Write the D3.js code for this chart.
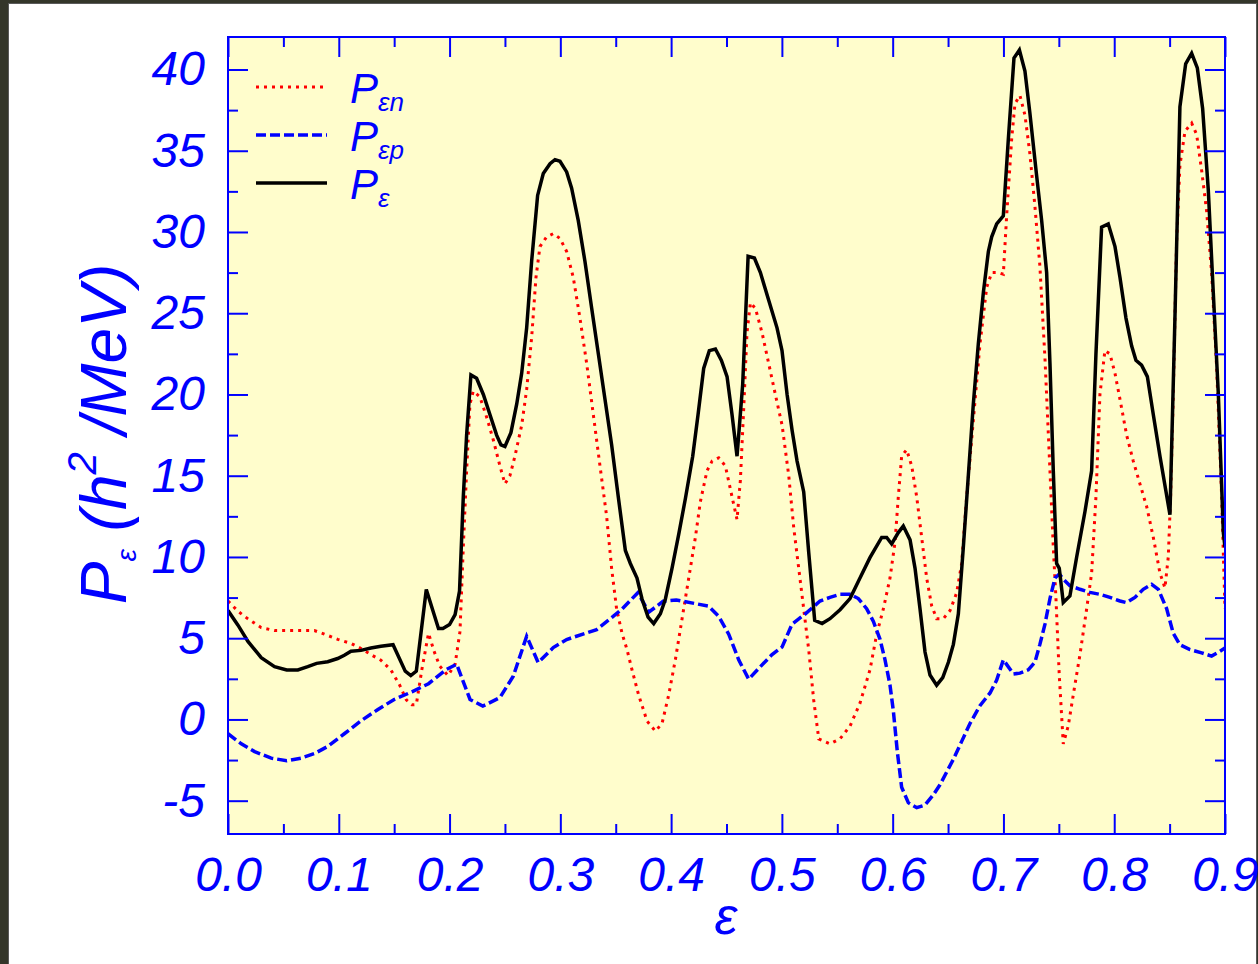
<!DOCTYPE html>
<html>
<head>
<meta charset="utf-8">
<script src="https://cdn.jsdelivr.net/npm/d3@7"></script>
<style>
  html, body { margin: 0; padding: 0; background: #34362a; }
  svg { display: block; }
  .tick line { stroke: #0000ff; stroke-width: 2px; }
  .tick text { fill: #0000ff; font-family: "Liberation Sans", Arial, sans-serif; font-style: italic; font-size: 48px; }
</style>
</head>
<body>
<svg id="chart" width="1258" height="964"></svg>
<script>
// deformation values (x) and P values for each curve
const epsN = [0, .009, .018, .030, .042, .053, .063, .078, .087, .099, .111, .120, .129, .138, .147, .155, .161, .166, .170, .175, .181, .186, .191, .1986, .205, .2094, .2124, .2154, .2184, .2214, .2274, .2335, .2395, .2455, .250, .2545, .259, .2651, .2696, .2741, .278, .2816, .2876, .2937, .2997, .3057, .3117, .3177, .3238, .3298, .3358, .3418, .3463, .3508, .3557, .3602, .3647, .3707, .3783, .3858, .3918, .3978, .4039, .4099, .4159, .4219, .4264, .4324, .437, .443, .449, .455, .4595, .4625, .4655, .4685, .4716, .4761, .4821, .4881, .4941, .5002, .5062, .5107, .5152, .5197, .5242, .5287, .5333, .5434, .5525, .5615, .5705, .5795, .5856, .5916, .5976, .6021, .6051, .6081, .6126, .6172, .6217, .6262, .6307, .6352, .6397, .6457, .6518, .6578, .6623, .6668, .6728, .6788, .6849, .6894, .6954, .6999, .7029, .7074, .7104, .7149, .7194, .7239, .7284, .7329, .7375, .742, .745, .7474, .7504, .754, .7585, .763, .7691, .7751, .7796, .7835, .7871, .7916, .7961, .8007, .8052, .8112, .8172, .8232, .8293, .8353, .8413, .8458, .8488, .8509, .8533, .8563, .8593, .8639, .8699, .8744, .8789, .8834, .8879, .8925, .897, .9];
const pN = [7.29, 6.66, 6.19, 5.65, 5.47, 5.47, 5.47, 5.47, 5.25, 4.93, 4.68, 4.37, 3.99, 3.65, 3.05, 2.11, 1.2, 0.9, 0.92, 3.07, 5.3, 4.2, 3.3, 2.7, 3.4, 5.4, 10.6, 15.3, 19.4, 20.2, 19.85, 18.6, 17.2, 15.6, 14.5, 15.0, 16.2, 18.1, 20.3, 23.5, 27.2, 29.1, 29.7, 29.9, 29.6, 28.8, 27.2, 24.7, 21.9, 18.75, 15.6, 12.5, 9.3, 6.8, 5.3, 4.3, 3.05, 1.5, -0.1, -0.72, -0.25, 1.5, 3.7, 6.2, 8.7, 11.2, 13.4, 15.3, 15.9, 16.1, 15.6, 13.7, 12.3, 14.7, 19.1, 23.8, 25.65, 25.3, 23.8, 21.9, 20.0, 18.1, 15.0, 11.8, 9.3, 6.8, 4.3, 1.2, -1.2, -1.5, -1.19, -0.41, 1.0, 3.05, 5.25, 6.8, 8.7, 10.9, 13.7, 16.2, 16.6, 15.6, 13.7, 11.2, 8.7, 7.0, 6.2, 6.2, 6.7, 7.8, 9.6, 13.7, 18.4, 23.1, 26.6, 27.5, 27.5, 27.4, 31.0, 35.7, 37.9, 38.4, 37.2, 34.8, 31.6, 27.9, 22.2, 15.3, 10.6, 7.45, 2.7, -1.5, -0.4, 1.5, 4.0, 6.8, 9.0, 13.7, 20.0, 22.7, 22.5, 21.3, 19.7, 17.5, 15.9, 14.5, 13.1, 11.2, 9.0, 8.1, 10.0, 13.7, 20.0, 29.4, 34.1, 36.2, 36.7, 36.0, 33.8, 31.3, 27.5, 21.6, 13.7, 6.8];

const epsP = [0, .012, .024, .039, .053, .066, .078, .090, .105, .120, .135, .150, .166, .181, .197, .2064, .2185, .230, .2455, .2575, .2696, .280, .2936, .3057, .3328, .3477, .3557, .370, .3798, .3928, .4047, .4219, .4339, .443, .452, .461, .470, .4821, .4911, .5002, .5092, .5212, .5344, .5434, .5525, .5615, .569, .5765, .5826, .5886, .5931, .5976, .6006, .6042, .6081, .6141, .6217, .6292, .6367, .6427, .6488, .6548, .6623, .6698, .6788, .6879, .6939, .6999, .709, .7149, .7224, .7284, .7329, .7375, .742, .7465, .7504, .754, .760, .7691, .7781, .7871, .7961, .8052, .8112, .8187, .8262, .8338, .8398, .8473, .8533, .8593, .8684, .8789, .8879, .8955, .9];
const pP = [-0.88, -1.5, -1.98, -2.38, -2.54, -2.38, -2.1, -1.66, -0.88, -0.09, 0.6, 1.23, 1.7, 2.2, 3.07, 3.4, 1.23, 0.82, 1.35, 2.66, 5.12, 3.5, 4.42, 4.92, 5.53, 6.34, 6.8, 7.8, 6.6, 7.27, 7.35, 7.13, 6.97, 6.34, 5.25, 3.67, 2.48, 3.36, 3.99, 4.46, 5.87, 6.5, 7.29, 7.51, 7.7, 7.7, 7.44, 6.82, 6.03, 4.93, 3.67, 2.11, 0.54, -1.98, -4.17, -5.12, -5.43, -5.27, -4.64, -4.02, -3.23, -2.45, -1.35, -0.25, 0.85, 1.63, 2.42, 3.67, 2.8, 2.85, 3.05, 3.52, 4.62, 5.87, 7.44, 8.7, 8.95, 8.64, 8.23, 8.01, 7.82, 7.7, 7.51, 7.29, 7.19, 7.51, 8.01, 8.32, 8.01, 6.82, 5.3, 4.6, 4.3, 4.1, 3.9, 4.2, 4.4];

const epsT = [0, .009, .018, .030, .042, .053, .063, .072, .080, .090, .099, .105, .111, .120, .129, .138, .149, .160, .165, .170, .179, .190, .194, .200, .205, .209, .2124, .2154, .2193, .2244, .2305, .2365, .2425, .2464, .250, .2554, .2606, .2651, .2696, .2741, .2795, .2846, .2907, .2952, .2997, .3057, .3102, .3162, .3222, .3283, .3343, .3403, .3463, .3523, .3587, .3632, .3692, .3738, .3792, .3843, .3903, .3948, .4008, .4069, .4129, .4195, .4243, .4294, .4345, .440, .4454, .4505, .455, .4595, .4646, .4695, .4752, .4806, .4881, .4956, .5001, .5047, .5092, .5137, .5197, .5242, .5296, .5363, .5434, .5525, .5615, .5705, .5795, .5901, .5946, .5991, .6051, .6096, .6157, .6202, .6247, .6292, .6337, .6397, .6452, .6503, .6548, .6593, .6638, .6683, .6728, .6773, .6819, .6864, .6894, .6939, .6999, .7044, .7095, .7144, .7194, .7239, .7299, .7345, .739, .742, .745, .748, .7504, .754, .760, .7661, .7736, .7796, .7835, .7886, .7946, .8007, .8052, .8106, .8157, .8196, .8247, .8299, .8353, .8413, .8503, .8548, .8593, .8645, .8699, .875, .8798, .8849, .8894, .894, .8985, .9];
const pT = [6.7, 5.8, 4.8, 3.8, 3.25, 3.05, 3.05, 3.25, 3.45, 3.55, 3.75, 3.95, 4.2, 4.25, 4.4, 4.5, 4.6, 2.97, 2.7, 2.97, 8.0, 5.6, 5.6, 5.84, 6.45, 7.9, 13.7, 17.5, 21.2, 21.0, 20.0, 18.75, 17.5, 16.9, 16.8, 17.65, 19.4, 21.3, 24.1, 28.2, 32.25, 33.6, 34.2, 34.45, 34.35, 33.7, 32.7, 30.7, 28.2, 25.3, 22.5, 19.7, 16.9, 13.7, 10.4, 9.6, 8.7, 7.4, 6.3, 5.9, 6.5, 7.4, 9.3, 11.4, 13.6, 16.2, 18.75, 21.6, 22.7, 22.8, 22.1, 21.1, 18.75, 16.2, 20.6, 28.5, 28.4, 27.5, 25.8, 24.1, 22.7, 20.0, 17.8, 15.9, 14.0, 10.3, 6.1, 5.9, 6.2, 6.75, 7.44, 8.7, 9.96, 11.2, 11.2, 10.8, 11.5, 11.9, 11.05, 9.3, 6.8, 4.15, 2.73, 2.11, 2.58, 3.52, 4.62, 6.5, 10.6, 15.0, 19.4, 23.1, 26.3, 28.8, 29.7, 30.5, 31.0, 35.7, 40.7, 41.2, 39.9, 37.3, 33.5, 30.7, 27.5, 21.9, 15.3, 9.6, 9.3, 7.2, 7.6, 10.0, 12.8, 15.3, 22.5, 30.3, 30.5, 29.1, 27.2, 24.7, 23.0, 22.1, 21.8, 21.1, 18.75, 16.2, 12.6, 24.7, 37.7, 40.35, 41.0, 40.1, 37.6, 32.6, 26.3, 20.0, 11.5, 10.6];

// tick values
const xMajor = [0, .1, .2, .3, .4, .5, .6, .7, .8, .9];
const xMinor = [.05, .15, .25, .35, .45, .55, .65, .75, .85];
const yMajor = [-5, 0, 5, 10, 15, 20, 25, 30, 35, 40];
const yMinor = [-2.5, 2.5, 7.5, 12.5, 17.5, 22.5, 27.5, 32.5, 37.5];

const legendItems = [
  { sub: "\u03b5n", color: "#ff0000", dash: "3,5", width: 3 },
  { sub: "\u03b5p", color: "#0000ff", dash: "10,4", width: 3.5 },
  { sub: "\u03b5", color: "#000000", dash: null, width: 3.5 }
];

const svg = d3.select('#chart');

// white page inside the dark frame
svg.append('rect')
  .attr('x', 8.5).attr('y', 3.5)
  .attr('width', 1248).attr('height', 964)
  .attr('fill', '#ffffff')
  .attr('stroke', '#5a5a5a')
  .attr('stroke-width', 1);

const plot = { left: 228, top: 37, right: 1225, bottom: 834 };
const innerW = plot.right - plot.left;
const innerH = plot.bottom - plot.top;

const x = d3.scaleLinear().domain([0, 0.9]).range([0, innerW]);
const y = d3.scaleLinear().domain([-7.05, 42.0]).range([innerH, 0]);

const g = svg.append('g').attr('transform', `translate(${plot.left},${plot.top})`);

g.append('rect')
  .attr('width', innerW).attr('height', innerH)
  .attr('fill', '#fffdcc');

g.append('clipPath').attr('id', 'clip')
  .append('rect').attr('width', innerW).attr('height', innerH);

// curves
const line = d3.line().x(d => x(d[0])).y(d => y(d[1]));
const series = [
  { eps: epsN, val: pN, style: legendItems[0] },
  { eps: epsP, val: pP, style: legendItems[1] },
  { eps: epsT, val: pT, style: legendItems[2] }
];
series.forEach(s => {
  g.append('path')
    .datum(s.eps.map((e, i) => [e, s.val[i]]))
    .attr('clip-path', 'url(#clip)')
    .attr('d', line)
    .attr('fill', 'none')
    .attr('stroke', s.style.color)
    .attr('stroke-width', s.style.width)
    .attr('stroke-dasharray', s.style.dash)
    .attr('stroke-linejoin', 'miter');
});

// axes, ticks pointing inward on all four sides
function addAxis(gen, vals, size, labels, transform) {
  const a = g.append('g')
    .attr('transform', transform || null)
    .call(gen.tickValues(vals).tickSize(-size).tickPadding(23)
      .tickFormat(labels ? labels : () => ''));
  a.select('.domain').remove();
  return a;
}
addAxis(d3.axisBottom(x), xMajor, 20, d => d.toFixed(1), `translate(0,${innerH})`);
addAxis(d3.axisBottom(x), xMinor, 10, null, `translate(0,${innerH})`);
addAxis(d3.axisTop(x), xMajor, 20, null);
addAxis(d3.axisTop(x), xMinor, 10, null);
addAxis(d3.axisLeft(y), yMajor, 20, d => String(d));
addAxis(d3.axisLeft(y), yMinor, 10, null);
addAxis(d3.axisRight(y), yMajor, 20, null, `translate(${innerW},0)`);
addAxis(d3.axisRight(y), yMinor, 10, null, `translate(${innerW},0)`);

// frame
g.append('rect')
  .attr('width', innerW).attr('height', innerH)
  .attr('fill', 'none')
  .attr('stroke', '#0000ff')
  .attr('stroke-width', 2);

// legend
const legend = g.append('g').attr('transform', 'translate(28,50)');
legendItems.forEach((d, i) => {
  const row = legend.append('g').attr('transform', `translate(0,${i * 48})`);
  row.append('line')
    .attr('x1', 0).attr('x2', 71)
    .attr('stroke', d.color)
    .attr('stroke-width', d.width)
    .attr('stroke-dasharray', d.dash);
  const t = row.append('text')
    .attr('x', 94).attr('y', 16)
    .attr('fill', '#0000ff')
    .style('font-family', '"Liberation Sans", Arial, sans-serif')
    .style('font-style', 'italic');
  t.append('tspan').style('font-size', '42px').text('P');
  t.append('tspan').style('font-size', '26px').attr('dy', 8).text(d.sub);
});

// axis titles
svg.append('text')
  .attr('x', 726).attr('y', 934)
  .attr('text-anchor', 'middle')
  .attr('fill', '#0000ff')
  .style('font-family', '"Liberation Sans", Arial, sans-serif')
  .style('font-style', 'italic')
  .style('font-size', '52px')
  .text('\u03b5');

const yt = svg.append('text')
  .attr('transform', 'translate(126,434) rotate(-90)')
  .attr('text-anchor', 'middle')
  .attr('fill', '#0000ff')
  .style('font-family', '"Liberation Sans", Arial, sans-serif')
  .style('font-style', 'italic')
  .style('font-size', '64px');
yt.append('tspan').text('P');
yt.append('tspan').style('font-size', '28px').attr('dy', 10).text('\u03b5');
yt.append('tspan').attr('dy', -10).text(' (h');
yt.append('tspan').style('font-size', '40px').attr('dy', -30).text('2');
yt.append('tspan').attr('dy', 30).text(' /MeV)');
</script>
</body>
</html>
